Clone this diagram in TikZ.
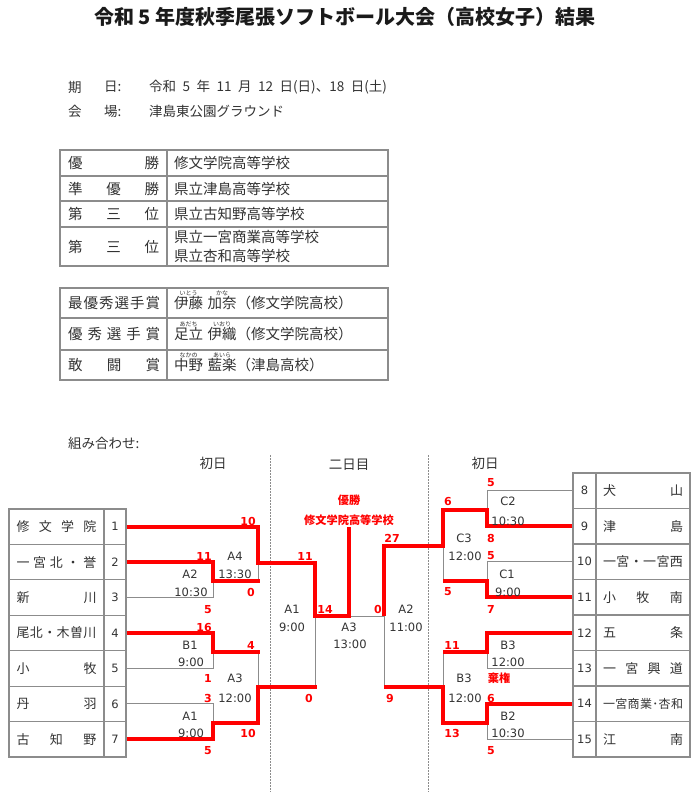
\documentclass[tikz,border=0pt]{standalone}
\usepackage{fontspec}
\setmainfont{Noto Sans CJK JP}
\newfontfamily\lat{DejaVu Sans}
\definecolor{txt}{HTML}{333333}
\definecolor{ttlc}{HTML}{1A1A1A}
\definecolor{ln}{HTML}{8C8C8C}
\definecolor{rd}{HTML}{FF0000}
\newcommand\rb[2]{\leavevmode\setbox0=\hbox{#1}\rlap{\hbox to\wd0{\hss\raisebox{12.8pt}[0pt][0pt]{\fontsize{6}{6}\selectfont#2}\hss}}\box0}
\newcommand\dst[2]{\makebox[#1][s]{#2}}
\tikzset{
 ttl/.style={inner sep=0pt, text=ttlc, font=\bfseries\fontsize{20}{20}\selectfont},
 jp/.style={inner sep=0pt, text=txt, font=\fontsize{13.5}{13.5}\selectfont},
 jpt/.style={inner sep=0pt, text=txt, font=\fontsize{14.5}{14.5}\selectfont},
 lbl/.style={inner sep=0pt, text=txt, font=\lat\fontsize{11.5}{11.5}\selectfont},
 sc/.style={inner sep=0pt, text=rd, font=\lat\bfseries\fontsize{11}{11}\selectfont},
 scj/.style={inner sep=0pt, text=rd, font=\bfseries\fontsize{11.2}{11.2}\selectfont},
 thinln/.style={draw=ln, line width=1pt},
 winln/.style={draw=rd, line width=4pt, line join=miter, line cap=butt},
 tbl/.style={draw=ln, line width=1.2pt},
 numc/.style={draw=ln, line width=1.2pt, inner sep=0pt, minimum height=35.43pt, text=txt, font=\lat\fontsize{11.5}{11.5}\selectfont},
 namec/.style={draw=ln, line width=1.2pt, inner sep=0pt, minimum height=35.43pt, text=txt, font=\fontsize{13}{13}\selectfont},
 sep/.style={draw=ln, line width=0.8pt, dash pattern=on 1.5pt off 1.5pt},
}
\begin{document}
\begin{tikzpicture}[x=1pt,y=-1pt]
\fill[white] (0,0) rectangle (700,810);
\useasboundingbox (0,0) rectangle (700,810);

% title
\node[ttl] (title) at (345,17) {令和 5 年度秋季尾張ソフトボール大会（高校女子）結果};

% info
\node[jp,anchor=west] (k1) at (68,87) {期};
\node[jp,anchor=west] (k2) at (104,87) {日:};
\node[jp,anchor=west] (v1) at (149,87) {\spaceskip=6.5pt 令和 5 年 11 月 12 日(日)、18 日(土)};
\node[jp,anchor=west] (k3) at (68,111) {会};
\node[jp,anchor=west] (k4) at (104,111) {場:};
\node[jp,anchor=west] (v2) at (149,111) {津島東公園グラウンド};

% table 1
\draw[tbl] (60,150) rectangle (388,266);
\draw[tbl] (60,176) -- (388,176) (60,201) -- (388,201) (60,227) -- (388,227) (167,150) -- (167,266);
\node[jpt,anchor=west] (a1) at (68,163) {\dst{91pt}{優\hfill 勝}};
\node[jpt,anchor=west] (b1) at (174,163) {修文学院高等学校};
\node[jpt,anchor=west] (a2) at (68,188.5) {\dst{91pt}{準\hfill 優\hfill 勝}};
\node[jpt,anchor=west] (b2) at (174,188.5) {県立津島高等学校};
\node[jpt,anchor=west] (a3) at (68,214) {\dst{91pt}{第\hfill 三\hfill 位}};
\node[jpt,anchor=west] (b3) at (174,214) {県立古知野高等学校};
\node[jpt,anchor=west] (a4) at (68,246.5) {\dst{91pt}{第\hfill 三\hfill 位}};
\node[jpt,anchor=west] (b4) at (174,237) {県立一宮商業高等学校};
\node[jpt,anchor=west] (b5) at (174,256) {県立杏和高等学校};

% table 2
\draw[tbl] (60,288) rectangle (388,380);
\draw[tbl] (60,318) -- (388,318) (60,350) -- (388,350) (167,288) -- (167,380);
\node[jpt,anchor=west] (p1) at (68,303) {\dst{92pt}{最\hfill 優\hfill 秀\hfill 選\hfill 手\hfill 賞}};
\node[jpt,anchor=west] (q1) at (174,303) {\rb{伊藤}{いとう}\hspace{4.5pt}\rb{加奈}{かな}（修文学院高校）};
\node[jpt,anchor=west] (p2) at (68,334) {\dst{92pt}{優\hfill 秀\hfill 選\hfill 手\hfill 賞}};
\node[jpt,anchor=west] (q2) at (174,334) {\rb{足立}{あだち}\hspace{4.5pt}\rb{伊織}{いおり}（修文学院高校）};
\node[jpt,anchor=west] (p3) at (68,365) {\dst{92pt}{敢\hfill 闘\hfill 賞}};
\node[jpt,anchor=west] (q3) at (174,365) {\rb{中野}{なかの}\hspace{4.5pt}\rb{藍楽}{あいら}（津島高校）};

% bracket headers
\node[jp,anchor=west] (kumi) at (68,443) {組み合わせ:};
\node[jp] (h1) at (213,463) {初日};
\node[jp] (h2) at (349,465) {二日目};
\node[jp] (h3) at (485,463) {初日};
\draw[sep] (270,455) -- (270,792);
\draw[sep] (428,455) -- (428,792);

% left teams
\node[namec, minimum width=95pt] (L1) at (56.5,526.7) {\dst{80pt}{修\hfill 文\hfill 学\hfill 院}};
\node[namec, minimum width=95pt] (L2) at (56.5,562.1) {\dst{80pt}{一\hfill 宮\hfill 北\hfill ・\hfill 誉}};
\node[namec, minimum width=95pt] (L3) at (56.5,597.6) {\dst{80pt}{新\hfill 川}};
\node[namec, minimum width=95pt] (L4) at (56.5,633.0) {\dst{80pt}{尾\hfill 北\hfill ・\hfill 木\hfill 曽\hfill 川}};
\node[namec, minimum width=95pt] (L5) at (56.5,668.4) {\dst{80pt}{小\hfill 牧}};
\node[namec, minimum width=95pt] (L6) at (56.5,703.9) {\dst{80pt}{丹\hfill 羽}};
\node[namec, minimum width=95pt] (L7) at (56.5,739.3) {\dst{80pt}{古\hfill 知\hfill 野}};
\node[numc, minimum width=22pt] (N1) at (115,526.7) {1};
\node[numc, minimum width=22pt] (N2) at (115,562.1) {2};
\node[numc, minimum width=22pt] (N3) at (115,597.6) {3};
\node[numc, minimum width=22pt] (N4) at (115,633.0) {4};
\node[numc, minimum width=22pt] (N5) at (115,668.4) {5};
\node[numc, minimum width=22pt] (N6) at (115,703.9) {6};
\node[numc, minimum width=22pt] (N7) at (115,739.3) {7};

% right teams
\node[numc, minimum width=23pt] (N8) at (584.5,490.75) {8};
\node[numc, minimum width=23pt] (N9) at (584.5,526.25) {9};
\node[numc, minimum width=23pt] (N10) at (584.5,561.75) {10};
\node[numc, minimum width=23pt] (N11) at (584.5,597.25) {11};
\node[numc, minimum width=23pt] (N12) at (584.5,632.75) {12};
\node[numc, minimum width=23pt] (N13) at (584.5,668.25) {13};
\node[numc, minimum width=23pt] (N14) at (584.5,703.75) {14};
\node[numc, minimum width=23pt] (N15) at (584.5,739.25) {15};
\node[namec, minimum width=94pt] (R8) at (643,490.75) {\dst{80pt}{犬\hfill 山}};
\node[namec, minimum width=94pt] (R9) at (643,526.25) {\dst{80pt}{津\hfill 島}};
\node[namec, minimum width=94pt] (R10) at (643,561.75) {\dst{80pt}{一\hfill 宮\hfill ・\hfill 一\hfill 宮\hfill 西}};
\node[namec, minimum width=94pt] (R11) at (643,597.25) {\dst{80pt}{小\hfill 牧\hfill 南}};
\node[namec, minimum width=94pt] (R12) at (643,632.75) {\dst{80pt}{五\hfill 条}};
\node[namec, minimum width=94pt] (R13) at (643,668.25) {\dst{80pt}{一\hfill 宮\hfill 興\hfill 道}};
\node[namec, minimum width=94pt] (R14) at (643,703.75) {\fontsize{12}{12}\selectfont\dst{80pt}{一\hfill 宮\hfill 商\hfill 業\hfill ･\hfill 杏\hfill 和}};
\node[namec, minimum width=94pt] (R15) at (643,739.25) {\dst{80pt}{江\hfill 南}};

% gray bracket lines (left)
\draw[thinln] (N3.east) -| (213,581);
\draw[thinln] (258,563) -- (258,581);
\draw[thinln] (N5.east) -| (213,652);
\draw[thinln] (N6.east) -| (213,723);
\draw[thinln] (258,652) -- (258,687);
\draw[thinln] (315,616) -- (315,687);
\draw[thinln] (349,616) -- (384,616);
% gray bracket lines (right)
\draw[thinln] (N8.west) -| (487,510);
\draw[thinln] (N10.west) -| (487,581);
\draw[thinln] (443,546) -- (443,581);
\draw[thinln] (N13.west) -| (487,652);
\draw[thinln] (443,652) -- (443,687);
\draw[thinln] (N15.west) -| (487,723);
\draw[thinln] (384,616) -- (384,687);

% red winner lines (left)
\draw[winln] (N1.east) -| (258,563) -| (315,616) -| (349,527);
\draw[winln] (N2.east) -| (213,581) -- (260,581);
\draw[winln] (N4.east) -| (213,652) -- (260,652);
\draw[winln] (N7.east) -| (213,723) -| (258,687) -- (317,687);
% red winner lines (right)
\draw[winln] (N9.west) -| (487,510) -| (443,546) -| (384,616);
\draw[winln] (N11.west) -| (487,581) -- (443,581);
\draw[winln] (N12.west) -| (487,652) -- (443,652);
\draw[winln] (N14.west) -| (487,723) -| (443,687) -- (384,687);

% left labels
\node[sc] (s1) at (248,521) {10};
\node[sc] (s2) at (204,556) {11};
\node[lbl] (g1) at (235,556) {A4};
\node[lbl] (g2) at (190,574) {A2};
\node[lbl] (t1) at (235,574) {13:30};
\node[lbl] (t2) at (191,592) {10:30};
\node[sc] (s3) at (251,592) {0};
\node[sc] (s4) at (208,610) {5};
\node[sc] (s5) at (305,556) {11};
\node[sc] (s6) at (204,627) {16};
\node[sc] (s7) at (251,645) {4};
\node[lbl] (g3) at (190,645) {B1};
\node[lbl] (t3) at (191,662) {9:00};
\node[sc] (s8) at (208,678) {1};
\node[lbl] (g4) at (235,678) {A3};
\node[sc] (s9) at (208,698) {3};
\node[lbl] (t4) at (235,698) {12:00};
\node[lbl] (g5) at (190,716) {A1};
\node[lbl] (t5) at (191,733) {9:00};
\node[sc] (s10) at (248,733) {10};
\node[sc] (s11) at (208,751) {5};
% centre labels
\node[lbl] (g6) at (292,609) {A1};
\node[lbl] (t6) at (292,627) {9:00};
\node[sc] (s12) at (325,609) {14};
\node[sc] (s13) at (309,698) {0};
\node[lbl] (g7) at (349,627) {A3};
\node[lbl] (t7) at (350,644) {13:00};
\node[scj] (w1) at (349,500) {優勝};
\node[scj] (w2) at (349,520) {修文学院高等学校};
\node[sc] (s14) at (378,609) {0};
\node[lbl] (g8) at (406,609) {A2};
\node[lbl] (t8) at (406,627) {11:00};
\node[sc] (s15) at (392,538) {27};
\node[sc] (s16) at (390,698) {9};
% right labels
\node[sc] (s17) at (491,483) {5};
\node[lbl] (g9) at (508,501) {C2};
\node[lbl] (t9) at (508,521) {10:30};
\node[sc] (s18) at (491,538) {8};
\node[sc] (s19) at (448,501) {6};
\node[lbl] (g10) at (464,538) {C3};
\node[lbl] (t10) at (465,556) {12:00};
\node[sc] (s20) at (491,556) {5};
\node[lbl] (g11) at (507,574) {C1};
\node[lbl] (t11) at (508,592) {9:00};
\node[sc] (s21) at (448,592) {5};
\node[sc] (s22) at (491,609) {7};
\node[sc] (s23) at (452,645) {11};
\node[lbl] (g12) at (508,645) {B3};
\node[lbl] (t12) at (508,662) {12:00};
\node[scj] (w3) at (499,678) {棄権};
\node[lbl] (g13) at (464,678) {B3};
\node[lbl] (t13) at (465,698) {12:00};
\node[sc] (s24) at (491,698) {6};
\node[lbl] (g14) at (508,716) {B2};
\node[lbl] (t14) at (508,733) {10:30};
\node[sc] (s25) at (452,733) {13};
\node[sc] (s26) at (491,751) {5};
\end{tikzpicture}
\end{document}
